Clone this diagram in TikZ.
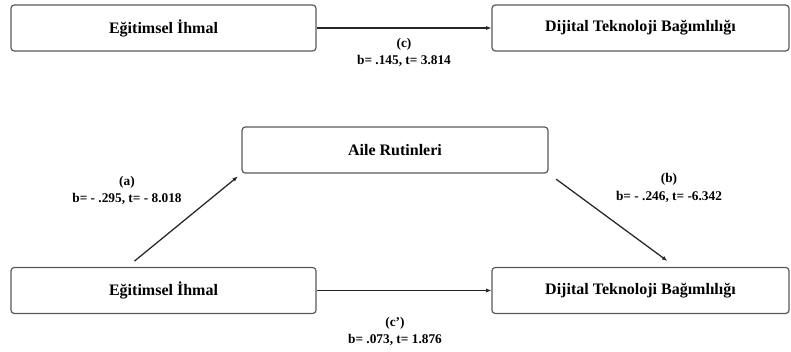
\documentclass[tikz,border=0pt]{standalone}
\usepackage{fontspec}
\setmainfont{Liberation Serif}
\usetikzlibrary{positioning}
\usetikzlibrary{calc}
\usetikzlibrary{arrows.meta}
\tikzstyle{var_box}=[draw=black!65, line width=0.9pt, rounded corners=2.5pt, minimum height=34.5pt, font=\fontsize{12}{14}\selectfont\bfseries]
\tikzstyle{path_arrow}=[-{Latex[length=4pt,width=3.2pt]}, line width=0.95pt, black!85]
\tikzstyle{coef}=[align=center, font=\fontsize{10}{13}\selectfont\bfseries]

\begin{document}
\begin{tikzpicture}[x=0.75pt, y=-0.75pt]
              \useasboundingbox (0,0) rectangle (791,352);
              \node[var_box, minimum width=228.75pt] (ei_top) at (163.5,28){Eğitimsel İhmal};
              \node[var_box, minimum width=222.75pt] (dtb_top) at (640.5,28){Dijital Teknoloji Bağımlılığı};
              \draw[path_arrow](ei_top) -- (dtb_top);
              \node[coef] (lab_c) at (404,52.5){(c)\\b= .145, t= 3.814};
              \node[var_box, minimum width=229.5pt] (ar_mid) at (395,150){Aile Rutinleri};
              \node[var_box, minimum width=228.75pt] (ei_bot) at (163.5,290.5){Eğitimsel İhmal};
              \node[var_box, minimum width=222.75pt] (dtb_bot) at (640.5,290.5){Dijital Teknoloji Bağımlılığı};
              \draw[path_arrow, shorten <=6.9pt, shorten >=3.4pt]($(ei_bot.north west)+(117,0)$) -- (ar_mid.south west);
              \draw[path_arrow, shorten <=7pt, shorten >=7.5pt](ar_mid.south east) -- ($(dtb_bot.north west)+(184,0)$);
              \draw[path_arrow](ei_bot) -- (dtb_bot);
              \node[coef] (lab_a) at (127,190.5){(a)\\b= - .295, t= - 8.018};
              \node[coef] (lab_b) at (669,188){(b)\\b= - .246, t= -6.342};
              \node[coef] (lab_cp) at (395,331.5){(c’)\\b= .073, t= 1.876};
            \end{tikzpicture}
\end{document}
